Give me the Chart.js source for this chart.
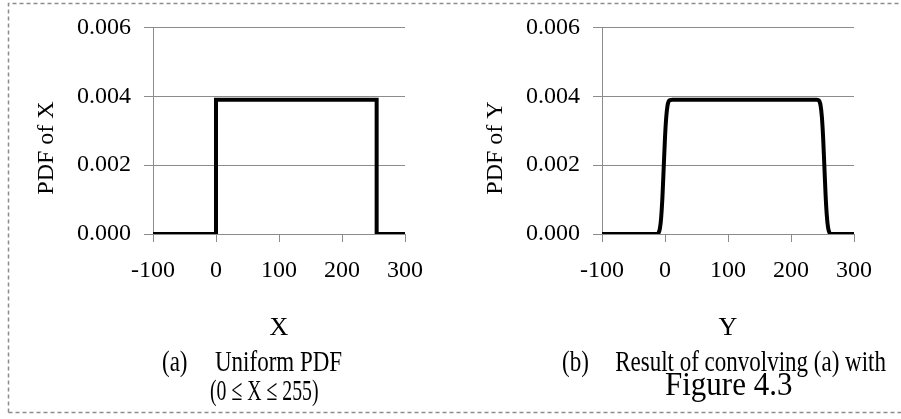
<!DOCTYPE html>
<html><head><meta charset="utf-8">
<script src="https://cdn.jsdelivr.net/npm/chart.js@4"></script>
<style>
html,body{margin:0;padding:0;background:#fff;}
body{width:901px;height:419px;position:relative;overflow:hidden;font-family:"Liberation Serif","Times New Roman",serif;color:#000;}
.cv{position:absolute;top:0;}
.cap{position:absolute;white-space:pre;line-height:1;transform-origin:0 0.8375em;color:#000;}
svg{position:absolute;left:0;top:0;}
</style></head><body>
<svg width="901" height="419"><path d="M8.5 412.5 V3.5 H901 M8.5 412.5 H901" fill="none" stroke="#8c8c8c" stroke-width="1.5" stroke-dasharray="4 3"/></svg>
<div class="cv" style="left:0px"><canvas id="c1" width="450" height="350"></canvas></div>
<div class="cv" style="left:449px"><canvas id="c2" width="450" height="350"></canvas></div>

<div class="cap" style="left:162px;top:351.7px;font-size:23px;transform:scaleY(1.3)">(a)</div>
<div class="cap" style="left:215px;top:351.7px;font-size:23px;transform:scaleY(1.3)">Uniform PDF</div>
<div class="cap" style="left:210px;top:380.7px;font-size:23px;transform:scale(0.86,1.3)">(0 ≤ X ≤ 255)</div>
<div class="cap" style="left:562px;top:351.7px;font-size:23px;transform:scaleY(1.3)">(b)</div>
<div class="cap" style="right:15px;top:351.7px;font-size:23px;transform:scaleY(1.3)">Result of convolving (a) with</div>
<div class="cap" style="left:665px;top:369px;font-size:31px;transform:scaleY(1.12)">Figure 4.3</div>

<script>
// ---- data ----
const xTickValues = [-100, 0, 100, 200, 300];
const yTickValues = [0, 0.002, 0.004, 0.006];

const xValuesA = [-100, 0, 0, 255, 255, 300];
const pdfX     = [0, 0, 0.0039, 0.0039, 0, 0];

const xValuesB = [-100, -20, -14, -12, -10, -8, -6, -4, -2, 0, 2, 4, 6, 8, 12, 20, 100, 200,
                  238, 241, 243, 245, 247, 249, 251, 253, 255, 257, 259, 261, 263, 265, 270, 300];
const pdfY     = [0, 0, 0, 0.00001, 0.00004, 0.00017, 0.0005, 0.0011, 0.00195, 0.0028, 0.0034, 0.00373, 0.00386, 0.00389, 0.0039, 0.0039, 0.0039, 0.0039,
                  0.0039, 0.0039, 0.00389, 0.00386, 0.00373, 0.0034, 0.0028, 0.00195, 0.0011, 0.0005, 0.00017, 0.00004, 0.00001, 0, 0, 0];

const xTitleA = 'X', yTitleA = 'PDF of X';
const xTitleB = 'Y', yTitleB = 'PDF of Y';

// ---- rendering ----
const GRID = '#8c8c8c';
const FONT = '"Liberation Serif", "Times New Roman", serif';

function yTitlePlugin(text) {
  return {
    id: 'yTitle',
    afterDraw(chart) {
      const ctx = chart.ctx;
      ctx.save();
      ctx.translate(47, 148);
      ctx.rotate(-Math.PI / 2);
      ctx.font = '24px ' + FONT;
      ctx.fillStyle = '#000';
      ctx.textAlign = 'center';
      ctx.textBaseline = 'middle';
      ctx.fillText(text, 0, 0);
      ctx.restore();
    }
  };
}

function makeChart(id, xs, ys, xTitle, yTitle, smooth) {
  const pts = xs.map((x, i) => ({x: x, y: ys[i]}));
  return new Chart(document.getElementById(id), {
    type: 'line',
    data: {datasets: [{
      data: pts,
      borderColor: '#000',
      borderWidth: 4,
      pointRadius: 0,
      fill: false,
      tension: 0,
      cubicInterpolationMode: smooth ? 'monotone' : 'default'
    }]},
    options: {
      responsive: false,
      animation: false,
      devicePixelRatio: 1,
      layout: {padding: {top: 22.5, left: 0, right: 45, bottom: 0}},
      plugins: {legend: {display: false}, tooltip: {enabled: false}},
      scales: {
        x: {
          type: 'linear', min: -100, max: 300,
          afterBuildTicks: s => { s.ticks = xTickValues.map(v => ({value: v})); },
          afterFit: s => { s.height = 116; },
          grid: {drawOnChartArea: false, drawTicks: true, tickLength: 8, color: GRID, lineWidth: 1},
          border: {display: true, color: GRID, width: 1},
          ticks: {padding: 14, color: '#000', font: {family: FONT, size: 24}, maxRotation: 0, autoSkip: false},
          title: {display: true, text: xTitle, color: '#000', font: {family: FONT, size: 26}, padding: {top: 0, bottom: 6}}
        },
        y: {
          type: 'linear', min: 0, max: 0.006,
          afterBuildTicks: s => { s.ticks = yTickValues.map(v => ({value: v})); },
          afterFit: s => { s.width = 153; },
          grid: {drawOnChartArea: true, drawTicks: true, tickLength: 9, color: GRID, lineWidth: 1},
          border: {display: true, color: GRID, width: 1},
          ticks: {padding: 13, color: '#000', font: {family: FONT, size: 24}, callback: v => v.toFixed(3)}
        }
      }
    },
    plugins: [yTitlePlugin(yTitle)]
  });
}

makeChart('c1', xValuesA, pdfX, xTitleA, yTitleA, false);
makeChart('c2', xValuesB, pdfY, xTitleB, yTitleB, true);
</script>
</body></html>
